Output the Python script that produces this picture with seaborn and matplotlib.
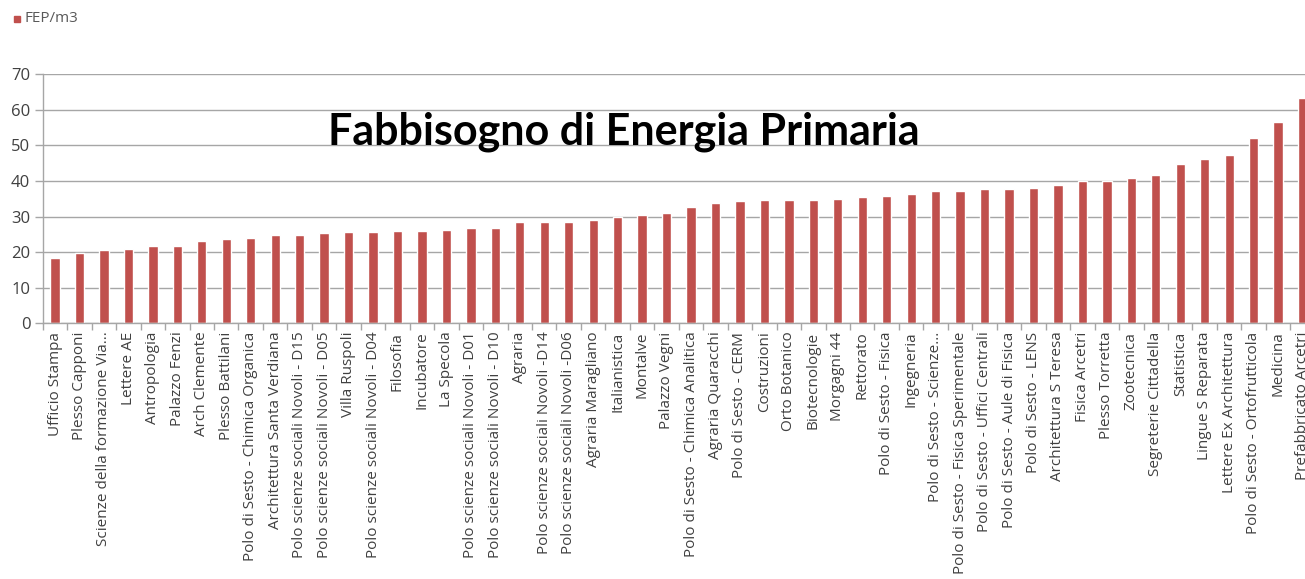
import matplotlib
matplotlib.use("Agg")
import matplotlib.pyplot as plt
import seaborn as sns
import pandas as pd
import numpy as np

# Primary energy need per building (FEP/m3), sorted ascending
buildings = [
    "Ufficio Stampa", "Plesso Capponi", "Scienze della formazione Via...",
    "Lettere AE", "Antropologia", "Palazzo Fenzi", "Arch Clemente",
    "Plesso Battilani", "Polo di Sesto - Chimica Organica",
    "Architettura Santa Verdiana", "Polo scienze sociali Novoli - D15",
    "Polo scienze sociali Novoli - D05", "Villa Ruspoli",
    "Polo scienze sociali Novoli - D04", "Filosofia", "Incubatore",
    "La Specola", "Polo scienze sociali Novoli - D01",
    "Polo scienze sociali Novoli - D10", "Agraria",
    "Polo scienze sociali Novoli -D14", "Polo scienze sociali Novoli -D06",
    "Agraria Maragliano", "Italianistica", "Montalve", "Palazzo Vegni",
    "Polo di Sesto - Chimica Analitica", "Agraria Quaracchi",
    "Polo di Sesto - CERM", "Costruzioni", "Orto Botanico", "Biotecnologie",
    "Morgagni 44", "Rettorato", "Polo di Sesto - Fisica", "Ingegneria",
    "Polo di Sesto - Scienze...", "Polo di Sesto - Fisica Sperimentale",
    "Polo di Sesto - Uffici Centrali", "Polo di Sesto - Aule di Fisica",
    "Polo di Sesto - LENS", "Architettura S Teresa", "Fisica Arcetri",
    "Plesso Torretta", "Zootecnica", "Segreterie Cittadella", "Statistica",
    "Lingue S Reparata", "Lettere Ex Architettura",
    "Polo di Sesto - Ortofrutticola", "Medicina", "Prefabbricato Arcetri",
]
fep_m3 = [
    18.3, 19.8, 20.6, 21.0, 21.8, 21.8, 23.1, 23.6, 23.9, 24.9, 24.9, 25.4,
    25.7, 25.7, 26.0, 26.0, 26.2, 26.9, 26.9, 28.5, 28.5, 28.5, 28.9, 29.9,
    30.4, 31.1, 32.6, 33.7, 34.4, 34.6, 34.6, 34.6, 35.0, 35.6, 35.8, 36.2,
    37.2, 37.2, 37.6, 37.6, 38.0, 38.9, 40.0, 40.0, 40.7, 41.6, 44.8, 46.1,
    47.3, 52.1, 56.5, 63.2,
]
y_ticks = [0, 10, 20, 30, 40, 50, 60, 70]
title = "Fabbisogno di Energia Primaria"
series_name = "FEP/m3"

bar_color = "#C0504D"
grid_color = "#A6A6A6"
text_color = "#404040"

sns.set_theme(style="white")
plt.rcParams["font.family"] = ["Open Sans", "DejaVu Sans"]

df = pd.DataFrame({"edificio": buildings, "fep": fep_m3})

fig = plt.figure(figsize=(13.05, 5.79), dpi=100)
# plot area runs slightly past the right edge of the figure
ax = fig.add_axes([0.0328, 0.4416, 0.9747, 0.4304])

sns.barplot(data=df, x="edificio", y="fep", color=bar_color,
            width=0.38, saturation=1, ax=ax)

ax.set_ylim(0, 70)
ax.set_xlim(-0.5, len(buildings) - 0.5)
ax.set_yticks(y_ticks)
ax.set_xlabel("")
ax.set_ylabel("")

ax.yaxis.grid(True, color=grid_color, linewidth=1.0)
ax.set_axisbelow(True)
for side in ("top", "right"):
    ax.spines[side].set_visible(False)
for side in ("left", "bottom"):
    ax.spines[side].set_color(grid_color)
    ax.spines[side].set_linewidth(1.0)

ax.tick_params(axis="y", which="major", length=6, width=1, color=grid_color,
               labelsize=12, labelcolor=text_color, pad=3, left=True)
ax.tick_params(axis="x", which="major", length=0, labelsize=11,
               labelcolor=text_color, pad=6, bottom=True)
ax.set_xticks(np.arange(len(buildings)))
ax.set_xticklabels(buildings, rotation=90, ha="center", va="top")
ax.set_xticks(np.arange(len(buildings) + 1) - 0.5, minor=True)
ax.tick_params(axis="x", which="minor", length=5, width=1, color=grid_color,
               bottom=True)

fig.text(0.478, 0.75, title, ha="center", va="baseline",
         fontsize=31, fontweight="bold", color="black",
         family=["Lato", "DejaVu Sans"])

# series key in the top-left corner
fig.patches.append(plt.Rectangle((14 / 1305, 1 - 22 / 579), 6 / 1305, 6 / 579,
                                 transform=fig.transFigure, color=bar_color))
fig.text(24 / 1305, 1 - 19 / 579, series_name, ha="left", va="center",
         fontsize=11, color="#595959")

fig.savefig("out.png", dpi=100)
